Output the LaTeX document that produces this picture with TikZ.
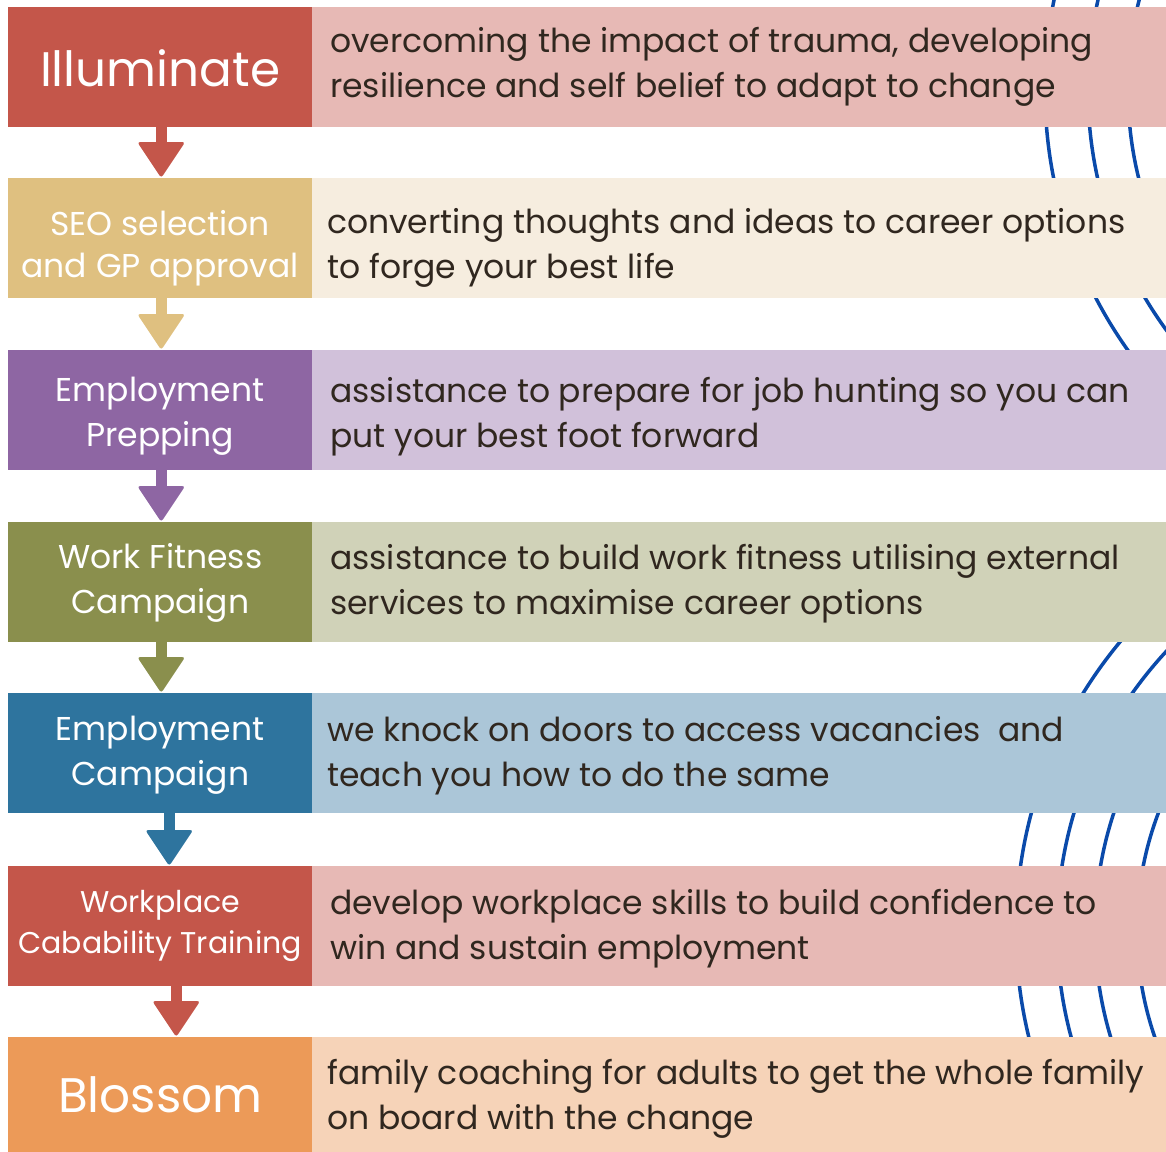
\documentclass[tikz,border=0pt]{standalone}
\usepackage{fontspec}
\setmainfont{Poppins}
\definecolor{txt}{HTML}{30271F}
\definecolor{arcblue}{RGB}{10,74,170}
\definecolor{redL}{HTML}{C4564A}\definecolor{redR}{HTML}{E7B9B5}
\definecolor{goldL}{HTML}{DFC080}\definecolor{goldR}{HTML}{F6EDDF}
\definecolor{purL}{HTML}{8E66A3}\definecolor{purR}{HTML}{D1C1DA}
\definecolor{oliL}{HTML}{8A8F4D}\definecolor{oliR}{HTML}{D0D2B8}
\definecolor{bluL}{HTML}{2E749E}\definecolor{bluR}{HTML}{ABC6D8}
\definecolor{orgL}{HTML}{EC9A58}\definecolor{orgR}{HTML}{F6D3B8}
\newcommand\flowarr[4]{%
  \draw[line width=11pt,#3] ([xshift=#4pt]#1.south) -- ([xshift=#4pt,yshift=30pt]#2.north);
  \fill[#3,rounded corners=3pt] ([xshift=#4pt]#2.north) -- ++(-24,-36) -- ++(48,0) -- cycle;}
\begin{document}
\begin{tikzpicture}[x=1pt,y=-1pt,
  lbox/.style={minimum width=304pt,minimum height=120pt,inner sep=0pt,anchor=north west},
  rbox/.style={minimum width=854pt,minimum height=120pt,inner sep=0pt,anchor=north west},
  ltext/.style={inner sep=0pt,text=white,align=center,font=\fontsize{33}{45}\selectfont},
  rtext/.style={inner sep=0pt,anchor=west,text=txt,align=left,font=\fontsize{33}{45}\selectfont},
  arcline/.style={draw=arcblue,line width=3.5pt}]
\useasboundingbox (0,0) rectangle (1166,1151);
\begin{scope}
\clip (0,0) rectangle (1166,1151);
\foreach \r in {450,407,367} \draw[arcline] (1495,90) circle (\r);
\foreach \r in {451,410,372,330} \draw[arcline] (1467,930) circle (\r);
\end{scope}
% boxes
\node[lbox,fill=redL] (L1) at (8,7) {};
\node[rbox,fill=redR] (R1) at (312,7) {};
\node[lbox,fill=goldL] (L2) at (8,178) {};
\node[rbox,fill=goldR] (R2) at (312,178) {};
\node[lbox,fill=purL] (L3) at (8,350) {};
\node[rbox,fill=purR] (R3) at (312,350) {};
\node[lbox,fill=oliL] (L4) at (8,522) {};
\node[rbox,fill=oliR] (R4) at (312,522) {};
\node[lbox,fill=bluL] (L5) at (8,693) {};
\node[rbox,fill=bluR] (R5) at (312,693) {};
\node[lbox,fill=redL] (L6) at (8,866) {};
\node[rbox,fill=redR] (R6) at (312,866) {};
\node[lbox,fill=orgL] (L7) at (8,1037) {};
\node[rbox,fill=orgR] (R7) at (312,1037) {};
% texts
\node[ltext,font=\fontsize{48.5}{50}\selectfont] (T1) at ([yshift=-1pt]L1.center) {Illuminate};
\node[ltext,font=\fontsize{33}{42}\selectfont] (T2) at ([yshift=-10pt]L2.center) {SEO selection\\and GP approval};
\node[ltext] (T3) at ([yshift=-6pt]L3.center) {Employment\\Prepping};
\node[ltext] (T4) at ([yshift=-1pt]L4.center) {Work Fitness\\Campaign};
\node[ltext] (T5) at ([yshift=-2pt]L5.center) {Employment\\Campaign};
\node[ltext,font=\fontsize{30}{41}\selectfont] (T6) at ([yshift=0pt]L6.center) {Workplace\\Cabability Training};
\node[ltext,font=\fontsize{48.5}{50}\selectfont] (T7) at ([yshift=2pt]L7.center) {Blossom};
\node[rtext] (S1) at ([xshift=18pt,yshift=0pt]R1.west) {overcoming the impact of trauma, developing\\resilience and self belief to adapt to change};
\node[rtext] (S2) at ([xshift=15pt,yshift=-10pt]R2.west) {converting thoughts and ideas to career options\\to forge your best life};
\node[rtext] (S3) at ([xshift=18pt,yshift=-6pt]R3.west) {assistance to prepare for job hunting so you can\\put your best foot forward};
\node[rtext] (S4) at ([xshift=18pt,yshift=-1pt]R4.west) {assistance to build work fitness utilising external\\services to maximise career options};
\node[rtext] (S5) at ([xshift=15pt,yshift=-2pt]R5.west) {we knock on doors to access vacancies\ \ and\\teach you how to do the same};
\node[rtext] (S6) at ([xshift=18pt,yshift=-2pt]R6.west) {develop workplace skills to build confidence to\\win and sustain employment};
\node[rtext] (S7) at ([xshift=15pt,yshift=-2pt]R7.west) {family coaching for adults to get the whole family\\on board with the change};
% arrows
\flowarr{L1}{L2}{redL}{1}
\flowarr{L2}{L3}{goldL}{1}
\flowarr{L3}{L4}{purL}{1}
\flowarr{L4}{L5}{oliL}{1}
\flowarr{L5}{L6}{bluL}{9}
\flowarr{L6}{L7}{redL}{16}
\end{tikzpicture}
\end{document}
